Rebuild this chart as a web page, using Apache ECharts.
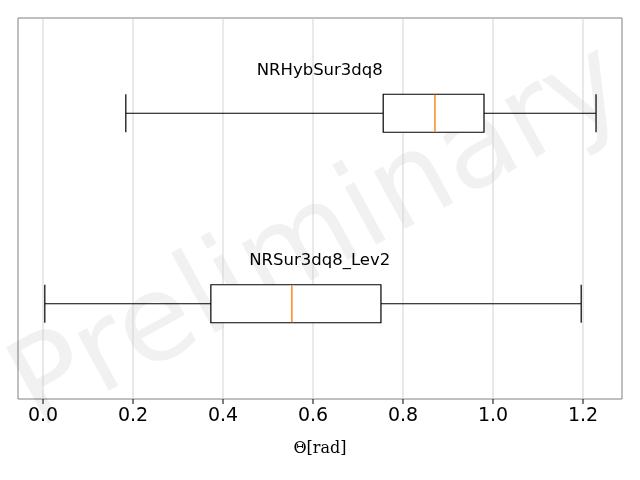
<!DOCTYPE html>
<html><head><meta charset="utf-8">
<script src="https://cdn.jsdelivr.net/npm/echarts@6/dist/echarts.min.js"></script>
<style>html,body{margin:0;padding:0;background:#fff}#c{width:640px;height:480px}</style>
</head><body><div id="c"></div>
<script>
const categories = ['NRSur3dq8_Lev2', 'NRHybSur3dq8'];
const boxStats = [
  [0.004, 0.373, 0.553, 0.751, 1.196],
  [0.184, 0.756, 0.871, 0.980, 1.229]
];
const xTicks = [0, 0.2, 0.4, 0.6, 0.8, 1.0, 1.2];
const labelX = 0.615;

const chart = echarts.init(document.getElementById('c'));
chart.setOption({
  animation: false,
  grid: {left: 18, right: 18, top: 18, bottom: 81, show: true, borderColor: '#808080', borderWidth: 1},
  xAxis: {
    type: 'value', min: -0.0556, max: 1.2867, interval: 0.2,
    axisLine: {show: false},
    axisTick: {show: false},
    splitLine: {show: false},
    axisLabel: {show: false},
    name: 'Θ[rad]', nameLocation: 'middle', nameGap: 42,
    nameTextStyle: {fontFamily: 'DejaVu Serif', fontSize: 16, color: '#000'}
  },
  yAxis: {
    type: 'category', data: categories,
    axisLine: {show: false}, axisTick: {show: false}, axisLabel: {show: false}
  },
  graphic: [{
    type: 'text', left: 'center', top: 'middle', rotation: 0.5,
    style: {text: 'Preliminary', fontSize: 120, fontFamily: 'DejaVu Sans', fill: 'rgba(0,0,0,0.055)'}
  }],
  series: [
    {
      type: 'custom', silent: true, z: 1,
      data: xTicks,
      renderItem: function (params, api) {
        const v = api.value(0);
        const p = api.coord([v, 0]);
        const cs = params.coordSys;
        return {type: 'group', children: [
          {type: 'line', shape: {x1: p[0], y1: cs.y, x2: p[0], y2: cs.y + cs.height}, style: {stroke: '#c8c8c8', lineWidth: 0.8}},
          {type: 'line', shape: {x1: p[0], y1: cs.y + cs.height, x2: p[0], y2: cs.y + cs.height + 5}, style: {stroke: '#000', lineWidth: 1}},
          {type: 'text', x: p[0], y: cs.y + cs.height + 8, style: {text: v.toFixed(1), fontSize: 19, fontFamily: 'DejaVu Sans', fill: '#000', align: 'center', verticalAlign: 'top'}}
        ]};
      }
    },
    {
      type: 'boxplot', z: 3, boxWidth: [38, 38],
      data: boxStats,
      itemStyle: {color: '#fff', borderColor: '#000', borderWidth: 1.2}
    },
    {
      type: 'custom', z: 4,
      data: boxStats.map((s, i) => [s[2], i, categories[i]]),
      renderItem: function (params, api) {
        const p = api.coord([api.value(0), api.value(1)]);
        const l = api.coord([labelX, api.value(1)]);
        return {type: 'group', children: [
          {type: 'rect', z2: 9, shape: {x: p[0] - 1.5, y: p[1] - 18.4, width: 3, height: 36.8}, style: {fill: '#fff'}},
          {type: 'line', z2: 10, shape: {x1: p[0], y1: p[1] - 18.4, x2: p[0], y2: p[1] + 18.4}, style: {stroke: '#ff7f0e', lineWidth: 1.4}},
          {type: 'text', x: l[0], y: l[1] - 43, style: {text: categories[params.dataIndex], fontSize: 16.5, fontFamily: 'DejaVu Sans', fill: '#000', align: 'center', verticalAlign: 'middle'}}
        ]};
      }
    }
  ]
});
</script></body></html>
